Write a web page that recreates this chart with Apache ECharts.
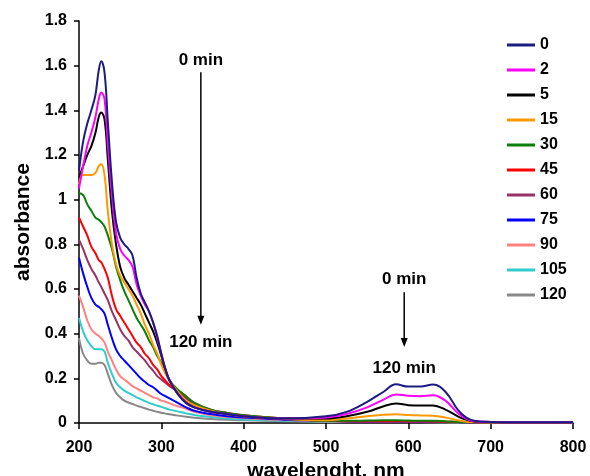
<!DOCTYPE html>
<html>
<head>
<meta charset="utf-8">
<script src="https://cdn.jsdelivr.net/npm/echarts@6/dist/echarts.min.js"></script>
<style>
html, body { margin: 0; padding: 0; background: #fff; }
#main { width: 590px; height: 476px; }
</style>
</head>
<body>
<div id="main"></div>
<script>
// wavelengths (nm) at which the spectra were read
var wavelength = [200,205,210,215,220,224,227,231,235,240,245,250,255,260,265,270,275,280,285,290,295,300,305,310,320,330,340,360,380,400,450,500,525,550,570,585,600,615,630,645,660,670,680,700,750,800];

// absorbance for each irradiation time (min)
var abs0   = [1.13,1.26,1.34,1.40,1.47,1.58,1.62,1.57,1.35,1.08,0.90,0.83,0.80,0.78,0.75,0.65,0.58,0.54,0.50,0.45,0.39,0.31,0.24,0.19,0.13,0.09,0.07,0.05,0.04,0.03,0.02,0.03,0.05,0.095,0.14,0.173,0.163,0.163,0.172,0.14,0.06,0.025,0.01,0.005,0.003,0.003];
var abs2   = [1.05,1.15,1.24,1.30,1.37,1.45,1.48,1.45,1.25,1.02,0.85,0.78,0.75,0.73,0.70,0.62,0.57,0.53,0.50,0.45,0.38,0.31,0.24,0.19,0.13,0.09,0.07,0.05,0.04,0.03,0.02,0.025,0.04,0.07,0.105,0.128,0.122,0.12,0.124,0.10,0.045,0.02,0.008,0.005,0.003,0.003];
var abs5   = [1.10,1.15,1.20,1.24,1.30,1.37,1.39,1.36,1.18,0.95,0.80,0.70,0.65,0.62,0.59,0.56,0.53,0.49,0.45,0.41,0.36,0.30,0.24,0.19,0.13,0.09,0.07,0.05,0.04,0.03,0.02,0.02,0.03,0.05,0.075,0.087,0.08,0.078,0.078,0.06,0.03,0.015,0.007,0.004,0.003,0.003];
var abs15  = [1.07,1.11,1.11,1.11,1.12,1.15,1.16,1.11,0.95,0.80,0.71,0.66,0.63,0.60,0.57,0.53,0.49,0.44,0.40,0.35,0.31,0.26,0.22,0.19,0.14,0.10,0.08,0.055,0.04,0.03,0.018,0.012,0.02,0.03,0.037,0.039,0.036,0.034,0.032,0.025,0.012,0.006,0.004,0.003,0.003,0.003];
var abs30  = [1.03,1.02,0.98,0.95,0.92,0.91,0.90,0.88,0.84,0.78,0.70,0.64,0.59,0.55,0.51,0.47,0.44,0.41,0.37,0.34,0.30,0.27,0.23,0.19,0.15,0.12,0.09,0.06,0.045,0.035,0.02,0.01,0.01,0.011,0.012,0.012,0.011,0.01,0.01,0.008,0.005,0.004,0.003,0.003,0.003,0.003];
var abs45  = [0.92,0.88,0.84,0.79,0.76,0.73,0.72,0.69,0.65,0.57,0.51,0.48,0.45,0.42,0.39,0.36,0.34,0.31,0.29,0.26,0.24,0.21,0.19,0.17,0.145,0.12,0.09,0.06,0.045,0.035,0.02,0.01,0.008,0.008,0.008,0.008,0.008,0.008,0.007,0.006,0.005,0.004,0.003,0.003,0.003,0.003];
var abs60  = [0.82,0.78,0.73,0.69,0.66,0.63,0.61,0.58,0.55,0.50,0.46,0.42,0.39,0.37,0.34,0.32,0.30,0.28,0.255,0.235,0.21,0.195,0.18,0.165,0.14,0.11,0.085,0.055,0.04,0.03,0.018,0.01,0.008,0.007,0.007,0.007,0.007,0.007,0.006,0.005,0.004,0.004,0.003,0.003,0.003,0.003];
var abs75  = [0.74,0.67,0.61,0.56,0.53,0.52,0.51,0.49,0.44,0.38,0.33,0.30,0.28,0.26,0.24,0.22,0.20,0.185,0.17,0.16,0.145,0.13,0.12,0.11,0.09,0.07,0.055,0.04,0.03,0.025,0.015,0.01,0.007,0.006,0.006,0.006,0.006,0.006,0.005,0.004,0.004,0.003,0.003,0.003,0.003,0.003];
var abs90  = [0.57,0.52,0.46,0.42,0.40,0.39,0.38,0.36,0.32,0.28,0.24,0.21,0.195,0.18,0.165,0.155,0.145,0.135,0.125,0.115,0.11,0.10,0.095,0.088,0.075,0.064,0.05,0.035,0.027,0.022,0.013,0.008,0.006,0.005,0.005,0.005,0.005,0.005,0.004,0.004,0.003,0.003,0.003,0.003,0.003,0.003];
var abs105 = [0.47,0.41,0.37,0.345,0.33,0.33,0.33,0.32,0.27,0.22,0.18,0.16,0.145,0.135,0.125,0.115,0.107,0.098,0.09,0.084,0.078,0.072,0.066,0.06,0.052,0.043,0.036,0.027,0.02,0.016,0.01,0.006,0.005,0.004,0.004,0.004,0.004,0.004,0.004,0.003,0.003,0.003,0.003,0.003,0.003,0.003];
var abs120 = [0.38,0.31,0.28,0.265,0.265,0.27,0.27,0.26,0.22,0.17,0.135,0.115,0.10,0.092,0.085,0.078,0.072,0.066,0.06,0.055,0.05,0.046,0.042,0.039,0.033,0.028,0.024,0.018,0.014,0.012,0.008,0.005,0.004,0.004,0.004,0.004,0.004,0.004,0.003,0.003,0.003,0.003,0.003,0.003,0.003,0.003];

var seriesNames = ['0','2','5','15','30','45','60','75','90','105','120'];
var seriesData = [abs0, abs2, abs5, abs15, abs30, abs45, abs60, abs75, abs90, abs105, abs120];
var seriesColors = ['#1c1c82','#ff00ff','#000000','#ff9900','#0a7f0a','#ff0000','#993366','#0000ff','#ff8080','#33cccc','#888888'];

var font = 'Arial, "Liberation Sans", sans-serif';

var dom = document.getElementById('main');
var myChart = echarts.init(dom);

var series = [];
for (var k = 0; k < seriesNames.length; k++) {
    var pts = [];
    for (var i = 0; i < wavelength.length; i++) {
        pts.push([wavelength[i], seriesData[k][i]]);
    }
    series.push({
        name: seriesNames[k],
        type: 'line',
        data: pts,
        smooth: 0.4,
        symbol: 'none',
        z: 20 - k,
        lineStyle: { width: 2, color: seriesColors[k] },
        itemStyle: { color: seriesColors[k] }
    });
}

var option = {
    backgroundColor: '#fff',
    animation: false,
    grid: { left: 79, right: 17, top: 21, bottom: 53, outerBoundsMode: 'none' },
    legend: {
        data: seriesNames,
        orient: 'vertical',
        left: 502,
        top: 32,
        icon: 'rect',
        itemWidth: 28,
        itemHeight: 3,
        itemGap: 9,
        textStyle: { fontFamily: font, fontWeight: 'bold', fontSize: 16, color: '#000' }
    },
    xAxis: {
        type: 'value',
        min: 200,
        max: 800,
        interval: 100,
        name: 'wavelenght, nm',
        nameLocation: 'middle',
        nameGap: 32,
        nameTextStyle: { fontFamily: font, fontWeight: 'bold', fontSize: 21, color: '#000' },
        axisLine: { lineStyle: { color: '#000', width: 1.5 } },
        axisTick: { length: 6, lineStyle: { color: '#000', width: 1.5 } },
        axisLabel: { margin: 17, fontFamily: font, fontWeight: 'bold', fontSize: 16, color: '#000' },
        splitLine: { show: false }
    },
    yAxis: {
        type: 'value',
        min: 0,
        max: 1.8,
        interval: 0.2,
        name: 'absorbance',
        nameLocation: 'middle',
        nameGap: 45,
        nameTextStyle: { fontFamily: font, fontWeight: 'bold', fontSize: 21, color: '#000' },
        axisLine: { show: true, lineStyle: { color: '#000', width: 1.5 } },
        axisTick: { show: true, length: 5, lineStyle: { color: '#000', width: 1.5 } },
        axisLabel: { margin: 12, fontFamily: font, fontWeight: 'bold', fontSize: 16, color: '#000' },
        splitLine: { show: false }
    },
    series: series
};

myChart.setOption(option);

// annotations: arrows showing change from 0 to 120 min, placed in data coordinates
var notes = [
    { x: 348, top: 1.57, tip: 0.44, topText: 1.625, bottomText: 0.36 },
    { x: 595, top: 0.585, tip: 0.34, topText: 0.645, bottomText: 0.245 }
];
var graphics = [];
notes.forEach(function (n) {
    var a = myChart.convertToPixel({ gridIndex: 0 }, [n.x, n.top]);
    var b = myChart.convertToPixel({ gridIndex: 0 }, [n.x, n.tip]);
    var t1 = myChart.convertToPixel({ gridIndex: 0 }, [n.x, n.topText]);
    var t2 = myChart.convertToPixel({ gridIndex: 0 }, [n.x, n.bottomText]);
    graphics.push({
        type: 'line',
        shape: { x1: a[0], y1: a[1], x2: b[0], y2: b[1] - 7 },
        style: { stroke: '#000', lineWidth: 1.5 }
    });
    graphics.push({
        type: 'polygon',
        shape: { points: [[b[0] - 3.5, b[1] - 9], [b[0] + 3.5, b[1] - 9], [b[0], b[1]]] },
        style: { fill: '#000' }
    });
    graphics.push({
        type: 'text',
        x: t1[0], y: t1[1],
        style: { text: '0 min', align: 'center', verticalAlign: 'middle', font: 'bold 17px ' + font, fill: '#000' }
    });
    graphics.push({
        type: 'text',
        x: t2[0], y: t2[1],
        style: { text: '120 min', align: 'center', verticalAlign: 'middle', font: 'bold 17px ' + font, fill: '#000' }
    });
});
myChart.setOption({ graphic: graphics });
</script>
</body>
</html>
